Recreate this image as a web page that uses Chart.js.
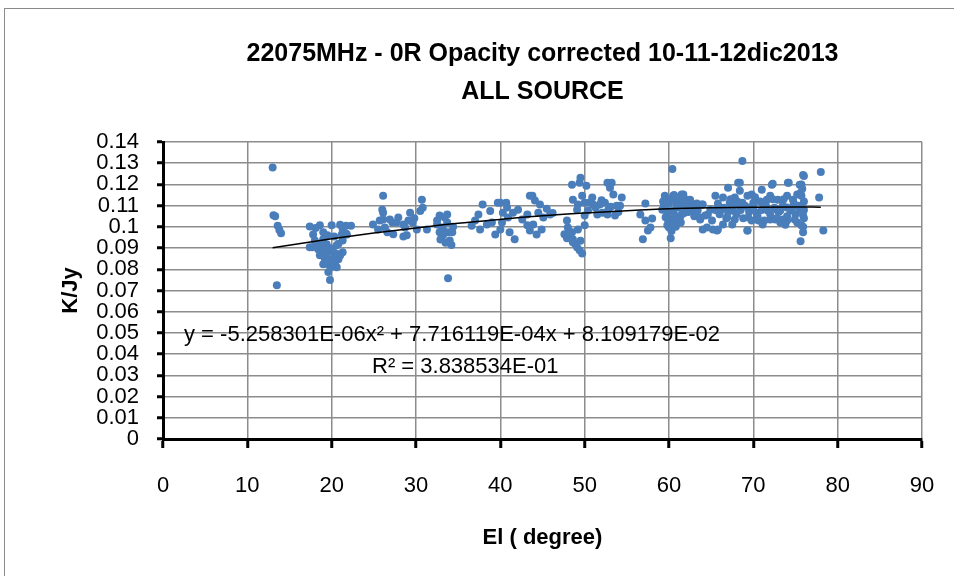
<!DOCTYPE html>
<html>
<head>
<meta charset="utf-8">
<script src="https://cdn.jsdelivr.net/npm/chart.js@4.4.0/dist/chart.umd.min.js"></script>
<style>
  html, body { margin: 0; padding: 0; background: #fff; }
  #wrap { width: 954px; height: 576px; }
</style>
</head>
<body>
<div id="wrap"><canvas id="myChart" width="954" height="576"></canvas></div>
<script>
// [elevation (deg), K/Jy], one array per elevation group
const el13 = [[13.0,0.128],[13.1,0.1055],[13.3,0.105],[13.6,0.1005],[13.8,0.0985],[14.0,0.097],[13.5,0.0725]];
const el20 = [[17.4,0.1002],[18.6,0.1007],[20.0,0.1007],[21.0,0.101],[21.7,0.1005],[17.8,0.0964],[19.0,0.0974],[18.0,0.0936],
  [17.4,0.0904],[18.4,0.0894],[18.9,0.088],[19.4,0.087],[20.0,0.0894],[20.6,0.0913],[21.3,0.088],[19.2,0.0847],[20.0,0.0847],
  [20.4,0.0824],[19.6,0.0824],[20.6,0.081],[19.0,0.0824],[19.6,0.0787],[19.8,0.0749],[21.2,0.0964],[21.7,0.0969],[21.3,0.0936],
  [19.4,0.0918],[18.4,0.0918],[19.0,0.0941],[20.2,0.088],[18.6,0.0866],[20.8,0.0847],[19.9,0.081],[21.3,0.099],[21.8,0.0964],
  [17.7,0.0904],[20.8,0.092],[19.8,0.09],[21.0,0.0865],[20.3,0.0955],[18.1,0.0995],[19.5,0.096],[20.5,0.0875],[19.3,0.0895],
  [20.1,0.0835],[18.8,0.092],[22.3,0.1005]];
const el28 = [[24.9,0.1011],[25.7,0.103],[26.1,0.1035],[26.1,0.1147],[26.0,0.1081],[26.1,0.1067],[25.5,0.0988],[26.6,0.0974],
  [27.3,0.0965],[26.9,0.1035],[27.7,0.102],[28.5,0.1011],[28.9,0.096],[28.5,0.0955],[29.3,0.1067],[29.1,0.103],[29.6,0.102],
  [30.1,0.0988],[30.7,0.1128],[30.8,0.109],[31.3,0.0988],[28.7,0.0997],[27.2,0.102],[27.9,0.1044],[26.3,0.0997],[29.8,0.104],[30.5,0.1075]];
const el33 = [[32.5,0.1011],[32.8,0.1053],[33.4,0.1044],[33.7,0.102],[33.2,0.0988],[33.8,0.0974],[33.2,0.096],[34.0,0.0936],
  [32.8,0.0974],[33.8,0.0758],[34.3,0.0974],[33.7,0.1058],[33.1,0.0997],[32.5,0.103],[34.2,0.0915],[33.5,0.0925],[34.4,0.1],[32.9,0.094]];
const el41 = [[37.0,0.103],[37.4,0.1058],[37.9,0.1105],[37.6,0.0988],[38.4,0.1011],[39.4,0.0964],[39.7,0.1114],[40.3,0.1067],
  [40.2,0.102],[40.8,0.1091],[41.1,0.0974],[41.7,0.0941],[41.5,0.1067],[42.1,0.1081],[43.2,0.1058],[43.8,0.1147],[44.1,0.1124],
  [44.7,0.1105],[43.9,0.1011],[43.5,0.0983],[44.3,0.0964],[44.9,0.0988],[45.1,0.1044],[45.9,0.1058],[40.9,0.1044],[40.0,0.0988],
  [39.0,0.102],[44.5,0.1067],[43.2,0.1007],[40.0,0.1114],[40.7,0.1114],[43.5,0.1147],[36.6,0.1005],[38.8,0.1075],[42.6,0.1035],
  [45.5,0.1085],[46.2,0.1065]];
const el49 = [[47.9,0.103],[48.0,0.0997],[48.3,0.0974],[47.9,0.0946],[48.6,0.0941],[48.9,0.0918],[49.1,0.0904],[49.4,0.089],
  [49.7,0.0875],[48.5,0.0974],[49.2,0.0988],[50.0,0.1007],[48.6,0.0927],[47.6,0.0965],[49.5,0.0935],[48.2,0.0955],
  [48.5,0.1198],[49.4,0.1208],[49.5,0.1231],[50.2,0.1194],[48.6,0.1128],[49.7,0.1147],[50.0,0.1114],[50.9,0.1138],[51.0,0.1105],
  [50.4,0.1077],[51.5,0.1058],[51.8,0.1105],[52.7,0.1208],[53.2,0.1208],[53.0,0.1184],[53.4,0.1152],[52.4,0.1114],[52.8,0.1081],
  [53.8,0.11],[54.4,0.1138],[53.6,0.1053],[52.7,0.1058],[49.2,0.1105],[49.1,0.1081],[52.1,0.1067],[54.2,0.11],[50.0,0.1053],
  [51.3,0.109],[52.0,0.1125],[53.1,0.1095],[50.6,0.1115],[54.0,0.107]];
const el57 = [[57.2,0.111],[57.2,0.103],[58.0,0.1039],[57.8,0.0997],[57.5,0.0983],[56.9,0.0941],[56.6,0.1058]];
const el61 = [[59.5,0.1147],[60.4,0.1273],[59.9,0.1128],[60.5,0.1147],[61.5,0.1152],[62.1,0.1128],[62.5,0.1114],[59.2,0.1081],
  [59.8,0.1067],[60.5,0.1077],[61.1,0.1091],[61.5,0.1058],[62.1,0.1081],[62.9,0.1077],[60.1,0.1035],[60.7,0.103],[59.8,0.1007],
  [60.4,0.1011],[60.0,0.0997],[60.2,0.0946],[61.3,0.1044],[62.7,0.1105],[59.4,0.1105],[60.9,0.1105],[63.4,0.1077],[63.7,0.1035],
  [62.0,0.1095],[61.0,0.1125],[60.0,0.111],[61.8,0.1065],[59.6,0.1045],[63.0,0.105],[59.3,0.112],[59.7,0.108],[60.2,0.113],
  [60.6,0.106],[61.2,0.11],[61.7,0.112],[62.3,0.107],[62.8,0.109],[60.8,0.1],[61.4,0.102],[59.9,0.103],[60.3,0.098],[60.6,0.115],[63.3,0.111]];
const el70 = [[68.7,0.1311],[61.7,0.1152],[64.0,0.1105],[64.3,0.1053],[64.5,0.0997],[65.2,0.0988],[65.8,0.0988],[65.5,0.1147],
  [67.0,0.1184],[68.2,0.1208],[68.4,0.117],[66.4,0.1138],[67.2,0.1114],[67.6,0.1077],[66.1,0.1077],[66.9,0.1044],[67.8,0.1035],
  [68.7,0.1114],[69.3,0.0983],[69.4,0.1091],[69.8,0.1152],[70.0,0.1114],[70.4,0.1067],[71.0,0.1175],[71.1,0.1011],[71.7,0.1077],
  [72.2,0.1198],[72.0,0.1147],[72.6,0.1035],[72.9,0.1128],[73.2,0.1077],[73.5,0.1035],[74.0,0.1147],[74.1,0.1208],[74.4,0.1077],
  [74.9,0.1035],[75.5,0.1198],[75.9,0.1245],[75.7,0.1147],[75.7,0.11],[75.9,0.1053],[75.7,0.1007],[75.9,0.0974],[75.6,0.0932],
  [75.3,0.11],[75.2,0.1152],[74.0,0.1091],[72.8,0.1081],[71.1,0.1114],[70.6,0.103],[69.4,0.1044],[68.4,0.11],[64.9,0.1081],
  [65.1,0.103],[63.7,0.1044],[66.4,0.1011],[67.5,0.1011],[72.0,0.1035],[73.2,0.102],[74.0,0.103],[74.7,0.1128],[71.6,0.1128],
  [69.3,0.1147],[67.8,0.1138],[78.0,0.1259],[77.8,0.1138],[78.3,0.0983],[72.3,0.1203],[74.2,0.1208],[68.4,0.1208],[64.0,0.0988],
  [65.7,0.0983],[69.3,0.0983],[76.0,0.124],[62.5,0.1128],[63.9,0.1105],[64.6,0.1058],
  [65.5,0.108],[66.0,0.106],[66.5,0.109],[67.0,0.107],[67.5,0.11],[68.0,0.106],[68.5,0.108],[69.0,0.11],[69.5,0.107],[70.0,0.109],
  [70.5,0.105],[71.0,0.108],[71.5,0.11],[72.0,0.106],[72.5,0.109],[73.0,0.107],[73.5,0.11],[74.0,0.105],[74.5,0.108],[75.0,0.106],
  [75.4,0.109],[75.8,0.107],[76.0,0.104],[65.8,0.111],[66.8,0.104],[68.8,0.104],[70.8,0.112],[72.8,0.104],[74.8,0.111],[69.8,0.103],
  [71.3,0.103],[73.8,0.101],[67.3,0.113],[68.1,0.112],[70.2,0.114],[72.3,0.113],[73.6,0.113],[75.6,0.116],[75.2,0.102],[76.0,0.108],
  [76.0,0.112],[75.8,0.118],[75.9,0.1],[75.7,0.12]];

// polynomial trendline, read at a few elevations
const trendEl  = [13, 20, 25, 30, 35, 40, 45, 50, 55, 60, 65, 70, 75, 78];
const trendKJy = [0.0902, 0.0944, 0.0971, 0.0995, 0.1017, 0.1035, 0.1052, 0.1065, 0.1076, 0.1085, 0.1090, 0.1093, 0.1094, 0.1093];

const titleLines = ['22075MHz - 0R Opacity corrected 10-11-12dic2013', 'ALL SOURCE'];
const eqText = 'y = -5.258301E-06x\u00B2 + 7.716119E-04x + 8.109179E-02';
const r2Text = 'R\u00B2 = 3.838534E-01';

const allPoints = [].concat(el13, el20, el28, el33, el41, el49, el57, el61, el70)
  .map(p => ({ x: p[0], y: p[1] }));
const trendPoints = trendEl.map((x, i) => ({ x: x, y: trendKJy[i] }));

const fam = 'Liberation Sans, Arial, sans-serif';
const tickFont = { family: fam, size: 22 };
const boldFont = { family: fam, size: 22, weight: 'bold' };

const frame = {
  id: 'frame',
  beforeDraw(chart) {
    const ctx = chart.ctx;
    ctx.save();
    ctx.fillStyle = '#fff';
    ctx.fillRect(0, 0, chart.width, chart.height);
    ctx.strokeStyle = '#8a8a8a';
    ctx.lineWidth = 1;
    ctx.strokeRect(4.5, 8.5, chart.width + 10, chart.height + 10);
    ctx.restore();
  },
  afterDraw(chart) {
    const ctx = chart.ctx;
    const a = chart.chartArea;
    ctx.save();
    ctx.fillStyle = '#000';
    ctx.font = '22px ' + fam;
    ctx.textBaseline = 'middle';
    ctx.textAlign = 'left';
    ctx.fillText(eqText, a.left + 21, a.top + 193);
    ctx.fillText(r2Text, a.left + 209, a.top + 225);
    ctx.restore();
  }
};

new Chart(document.getElementById('myChart'), {
  type: 'scatter',
  data: {
    datasets: [
      {
        type: 'line',
        label: 'trend',
        data: trendPoints,
        borderColor: '#000',
        borderWidth: 1.5,
        pointRadius: 0,
        fill: false,
        cubicInterpolationMode: 'monotone',
        order: 0
      },
      {
        label: 'K/Jy',
        data: allPoints,
        backgroundColor: '#4A7EBB',
        borderWidth: 0,
        pointRadius: 4,
        order: 1
      }
    ]
  },
  options: {
    responsive: false,
    animation: false,
    layout: { padding: { left: 8, right: 32, top: 0, bottom: 12 } },
    plugins: {
      legend: { display: false },
      tooltip: { enabled: false },
      title: {
        display: true,
        fullSize: false,
        text: titleLines,
        color: '#000',
        font: { family: fam, size: 25, weight: 'bold', lineHeight: 1.52 },
        padding: { top: 35, bottom: 31 }
      }
    },
    scales: {
      x: {
        type: 'linear',
        min: 0,
        max: 90,
        ticks: { stepSize: 10, autoSkip: false, color: '#000', font: tickFont, padding: 25 },
        grid: { color: '#8c8c8c', lineWidth: 1.5, tickColor: '#000', tickLength: 9, tickWidth: 3 },
        border: { color: '#000', width: 3 },
        title: { display: true, text: 'El ( degree)', color: '#000', font: boldFont, padding: { top: 0, bottom: 13 } },
        afterFit(scale) {
          scale.height = 125;
          scale.paddingRight = 14;
        }
      },
      y: {
        min: 0,
        max: 0.14,
        ticks: {
          stepSize: 0.01,
          autoSkip: false,
          color: '#000',
          font: tickFont,
          padding: 18,
          callback: v => String(parseFloat(v.toFixed(2)))
        },
        grid: { color: '#8c8c8c', lineWidth: 1.5, tickColor: '#000', tickLength: 6, tickWidth: 3 },
        border: { color: '#000', width: 3 },
        title: { display: true, text: 'K/Jy', color: '#000', font: boldFont, padding: { top: 50, bottom: 0 } },
        afterFit(scale) { scale.width = 155; }
      }
    }
  },
  plugins: [frame]
});
</script>
</body>
</html>
